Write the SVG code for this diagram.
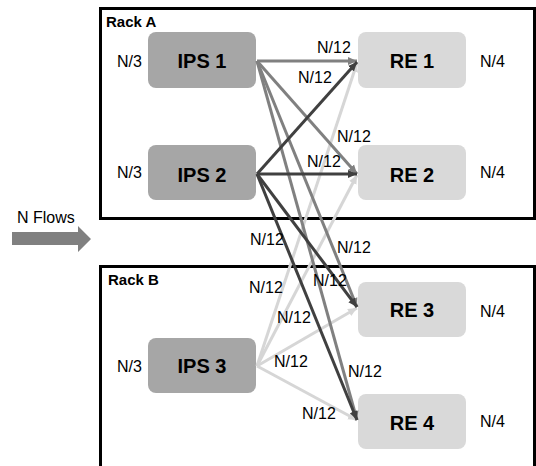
<svg xmlns="http://www.w3.org/2000/svg" width="536" height="466" viewBox="0 0 536 466">
<style>
.rack{fill:none;stroke:#000;stroke-width:3}
.rl{font-family:"Liberation Sans",Arial,sans-serif;font-weight:bold;font-size:15px;fill:#000}
.ips{fill:#a6a6a6}
.re{fill:#d9d9d9}
.nt{font-family:"Liberation Sans",Arial,sans-serif;font-weight:bold;font-size:20px;fill:#000;text-anchor:middle}
.lb{font-family:"Liberation Sans",Arial,sans-serif;font-size:16px;fill:#000}
.c1{stroke:#808080;stroke-width:3;fill:none;marker-end:url(#m1)}
.c2{stroke:#404040;stroke-width:3;fill:none;marker-end:url(#m2)}
.c3{stroke:#d6d6d6;stroke-width:3;fill:none;marker-end:url(#m3)}
</style>
<defs>
<marker id="m1" markerUnits="userSpaceOnUse" markerWidth="10" markerHeight="10" refX="9" refY="5" orient="auto"><path d="M0,1 L9,5 L0,9 Z" fill="#808080"/></marker>
<marker id="m2" markerUnits="userSpaceOnUse" markerWidth="10" markerHeight="10" refX="9" refY="5" orient="auto"><path d="M0,1 L9,5 L0,9 Z" fill="#404040"/></marker>
<marker id="m3" markerUnits="userSpaceOnUse" markerWidth="10" markerHeight="10" refX="9" refY="5" orient="auto"><path d="M0,1 L9,5 L0,9 Z" fill="#d6d6d6"/></marker>
</defs>
<rect width="536" height="466" fill="#fff"/>
<g id="rackA"><rect class="rack" x="100.5" y="8.5" width="434" height="210"/><text class="rl" x="106" y="27">Rack A</text></g>
<g id="rackB"><rect class="rack" x="100.5" y="266.5" width="434" height="220"/><text class="rl" x="108" y="285">Rack B</text></g>
<g id="nflows"><text class="lb" x="17" y="223">N Flows</text><path d="M12,232 H78 V226 L91,239 L78,252 V245 H12 Z" fill="#808080"/></g>
<g id="ips1"><rect class="ips" x="148" y="32" width="108" height="56" rx="8"/><text class="nt" x="202" y="68">IPS 1</text><text class="lb" x="117" y="67">N/3</text></g>
<g id="ips2"><rect class="ips" x="148" y="145" width="108" height="55" rx="8"/><text class="nt" x="202" y="182">IPS 2</text><text class="lb" x="117" y="178">N/3</text></g>
<g id="ips3"><rect class="ips" x="148" y="338" width="108" height="55" rx="8"/><text class="nt" x="202" y="373">IPS 3</text><text class="lb" x="117" y="372">N/3</text></g>
<g id="re1"><rect class="re" x="358" y="32" width="108" height="56" rx="8"/><text class="nt" x="412" y="68">RE 1</text><text class="lb" x="480" y="67">N/4</text></g>
<g id="re2"><rect class="re" x="358" y="145" width="108" height="55" rx="8"/><text class="nt" x="412" y="182">RE 2</text><text class="lb" x="480" y="178">N/4</text></g>
<g id="re3"><rect class="re" x="358" y="282" width="108" height="55" rx="8"/><text class="nt" x="412" y="317">RE 3</text><text class="lb" x="480" y="317">N/4</text></g>
<g id="re4"><rect class="re" x="358" y="394" width="108" height="55" rx="8"/><text class="nt" x="412" y="430">RE 4</text><text class="lb" x="480" y="427">N/4</text></g>
<g id="connectors">
<line class="c3" x1="257" y1="366" x2="357" y2="63"/>
<line class="c3" x1="257" y1="366" x2="357" y2="175"/>
<line class="c3" x1="257" y1="366" x2="357" y2="308"/>
<line class="c3" x1="257" y1="366" x2="357" y2="420"/>
<line class="c1" x1="257" y1="61" x2="357" y2="61"/>
<line class="c1" x1="257" y1="61" x2="357" y2="174"/>
<line class="c1" x1="257" y1="61" x2="357" y2="307"/>
<line class="c1" x1="257" y1="61" x2="357" y2="420"/>
<line class="c2" x1="257" y1="174" x2="357" y2="62"/>
<line class="c2" x1="257" y1="174" x2="357" y2="174"/>
<line class="c2" x1="257" y1="174" x2="357" y2="307"/>
<line class="c2" x1="257" y1="174" x2="357" y2="420"/>
</g>
<g id="flowlabels" class="lb">
<text x="317" y="53">N/12</text>
<text x="298" y="83">N/12</text>
<text x="337" y="142">N/12</text>
<text x="307" y="167">N/12</text>
<text x="250" y="245">N/12</text>
<text x="337" y="253">N/12</text>
<text x="249" y="293">N/12</text>
<text x="313" y="286">N/12</text>
<text x="277" y="323">N/12</text>
<text x="274" y="367">N/12</text>
<text x="348" y="377">N/12</text>
<text x="302" y="419">N/12</text>
</g>
</svg>
